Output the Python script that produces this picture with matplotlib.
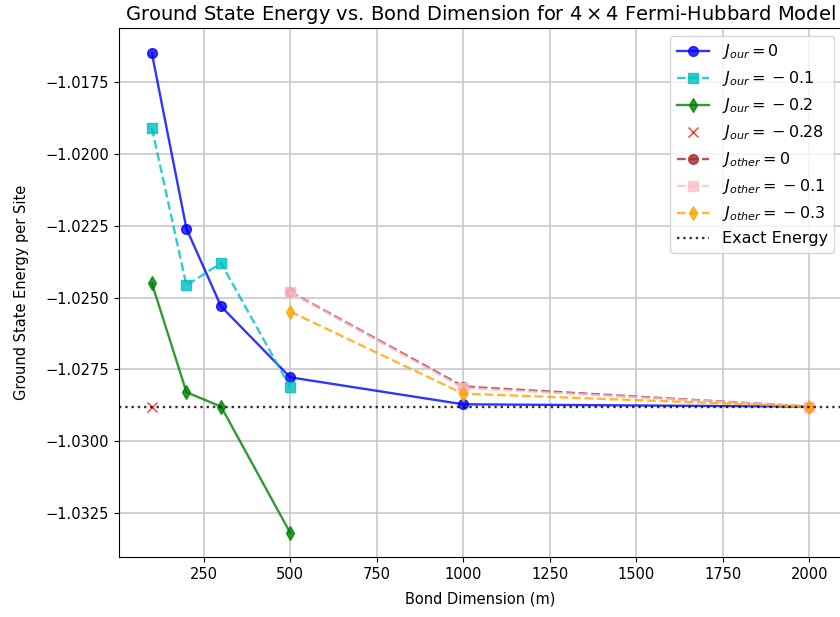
import matplotlib
matplotlib.use("Agg")
import matplotlib.pyplot as plt

exact_energy = -1.0288

x_our0 = [100, 200, 300, 500, 1000, 2000]
y_our0 = [-1.01649, -1.02260, -1.02531, -1.02778, -1.02872, -1.02880]

x_our1 = [100, 200, 300, 500]
y_our1 = [-1.01909, -1.02458, -1.02380, -1.02813]

x_our2 = [100, 200, 300, 500]
y_our2 = [-1.02450, -1.02830, -1.02880, -1.03320]

x_our28 = [100]
y_our28 = [-1.02880]

x_oth0 = [500, 1000, 2000]
y_oth0 = [-1.02480, -1.02810, -1.02880]

x_oth1 = [500, 1000, 2000]
y_oth1 = [-1.02482, -1.02815, -1.02880]

x_oth3 = [500, 1000, 2000]
y_oth3 = [-1.02549, -1.02835, -1.02880]

plt.rcParams['font.size'] = 10.5
fig = plt.figure(figsize=(8.4, 6.17), dpi=100)
ax = fig.add_axes([119/840, 60/617, (842-119)/840, (557-28)/617])

lw = 1.7
ms = 7
ax.plot(x_our0, y_our0, 'o-', color='blue', lw=lw, ms=ms, alpha=0.8, label=r'$J_{our}=0$')
ax.plot(x_our1, y_our1, 's--', color='c', lw=lw, ms=ms, alpha=0.8, label=r'$J_{our}=\:-\:0.1$')
ax.plot(x_our2, y_our2, 'd-', color='green', lw=lw, ms=ms, alpha=0.8, label=r'$J_{our}=\:-\:0.2$')
ax.plot(x_our28, y_our28, 'x', color='red', ms=ms, alpha=0.8, label=r'$J_{our}=\:-\:0.28$')
ax.plot(x_oth0, y_oth0, 'o--', color='brown', lw=lw, ms=ms, alpha=0.8, label=r'$J_{other}=0$')
ax.plot(x_oth1, y_oth1, 's--', color='pink', lw=lw, ms=ms, alpha=0.8, label=r'$J_{other}=\:-\:0.1$')
ax.plot(x_oth3, y_oth3, 'd--', color='orange', lw=lw, ms=ms, alpha=0.8, label=r'$J_{other}=\:-\:0.3$')
ax.axhline(exact_energy, color='black', ls=':', lw=lw, alpha=0.8, label='Exact Energy')

ax.set_xlim(5, 2095)
ax.set_ylim(-1.03404, -1.01561)
ax.set_xticks([250, 500, 750, 1000, 1250, 1500, 1750, 2000])
ax.set_yticks([-1.0325, -1.0300, -1.0275, -1.0250, -1.0225, -1.0200, -1.0175])
ax.set_yticklabels(['−1.0325', '−1.0300', '−1.0275', '−1.0250', '−1.0225', '−1.0200', '−1.0175'])
ax.grid(True, color='#c4c4c4', lw=1.1)
ax.set_xlabel('Bond Dimension (m)', labelpad=7)
ax.set_ylabel('Ground State Energy per Site', labelpad=12)
ax.set_title(r'Ground State Energy vs. Bond Dimension for $4\times4$ Fermi-Hubbard Model', fontsize=14)
ax.legend(loc='upper right', fontsize=11.5)

fig.savefig('out.png', dpi=100)
